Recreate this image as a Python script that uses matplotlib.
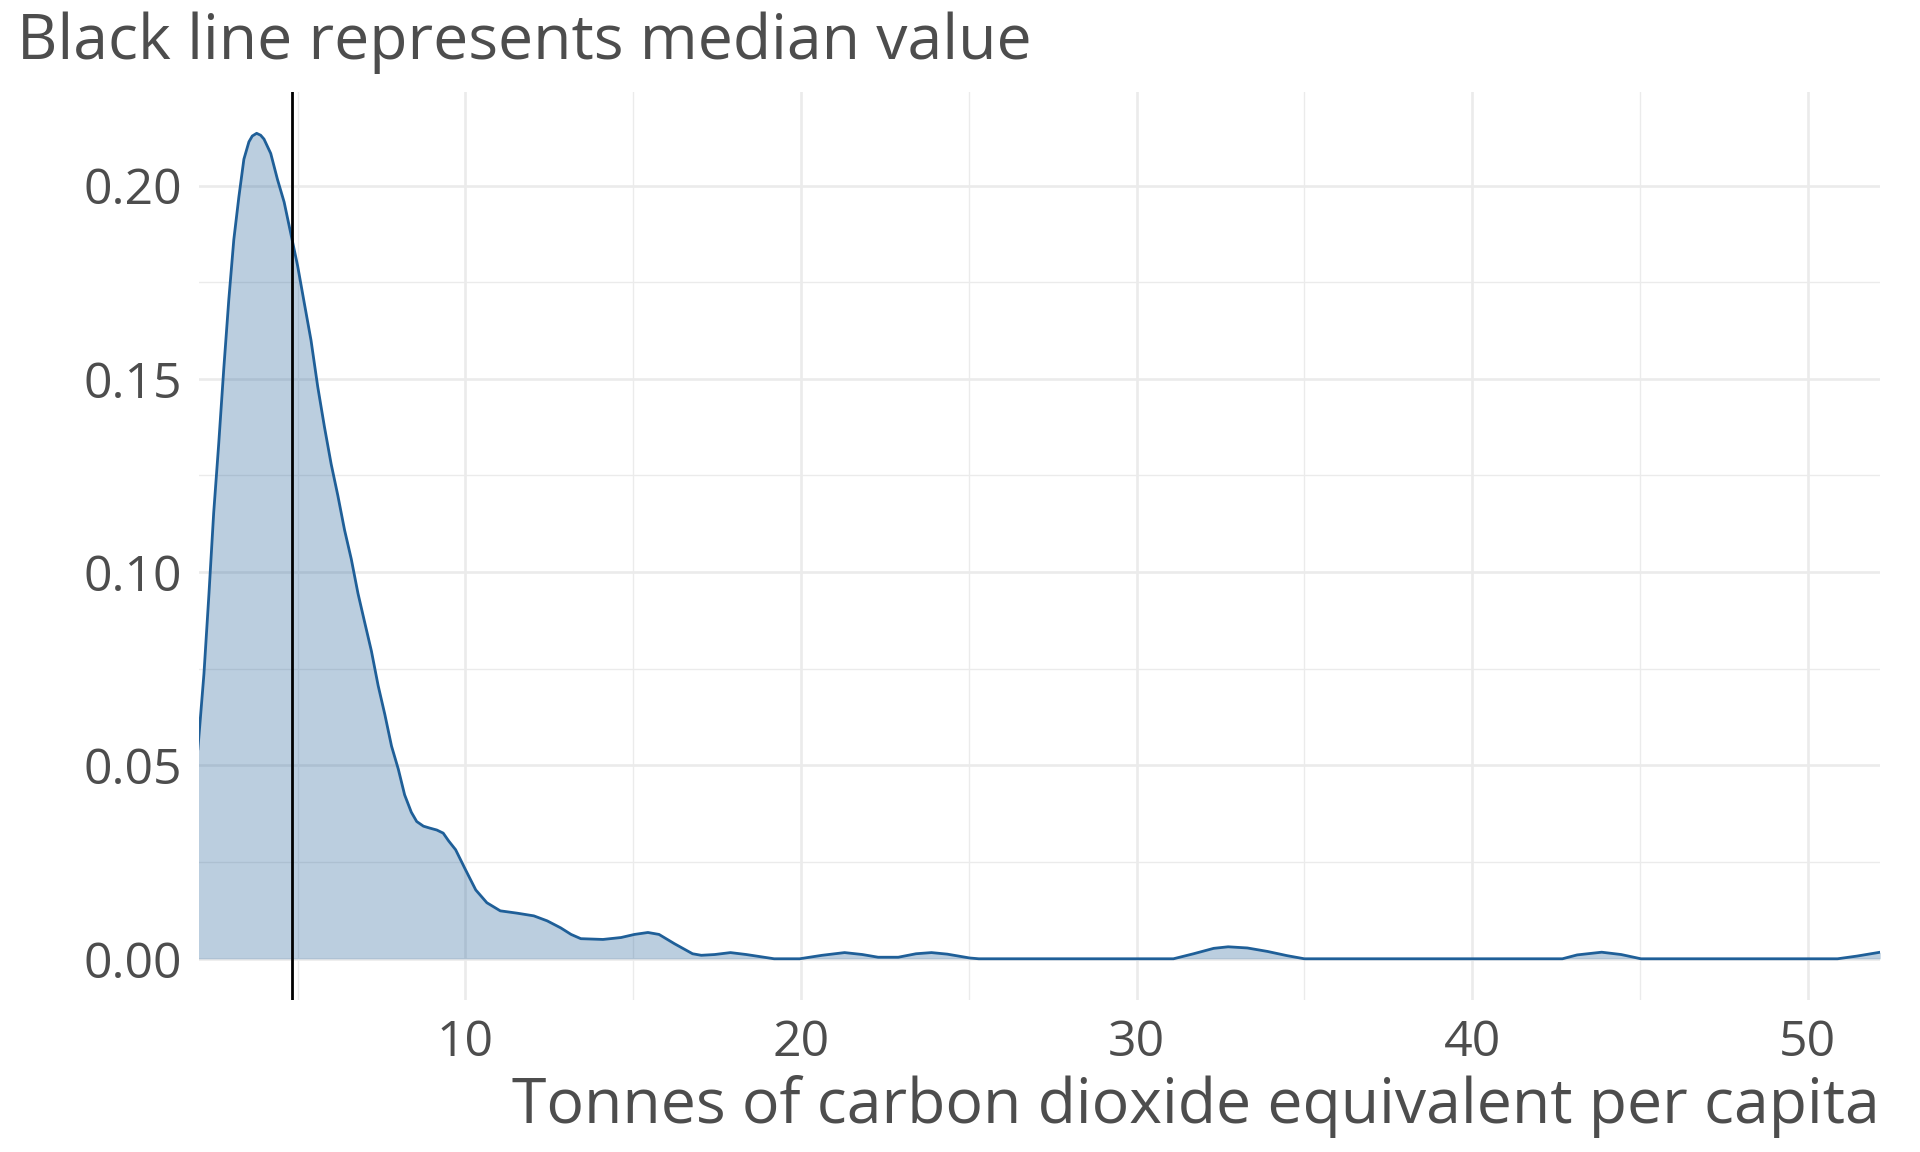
import matplotlib
matplotlib.use("Agg")
import matplotlib.pyplot as plt
from matplotlib.ticker import MultipleLocator

plt.rcParams['font.family'] = ['Open Sans', 'DejaVu Sans']

# Density estimate (x: tonnes CO2e per capita, y: density)
emissions = [2.03, 2.21, 2.36, 2.50, 2.65, 2.80, 2.95, 3.10, 3.25, 3.40, 3.55, 3.65,
             3.78, 3.90, 4.00, 4.20, 4.40, 4.60, 4.80, 5.00, 5.20, 5.40, 5.60, 5.80,
             6.00, 6.20, 6.40, 6.60, 6.80, 7.00, 7.20, 7.40, 7.60, 7.80, 8.00, 8.19,
             8.39, 8.55, 8.75, 8.94, 9.15, 9.34, 9.50, 9.71, 10.0, 10.31, 10.64, 11.04,
             11.54, 12.04, 12.44, 12.84, 13.15, 13.44, 14.1, 14.64, 15.04, 15.44, 15.77,
             16.23, 16.77, 17.03, 17.43, 17.9, 18.37, 18.9, 19.2, 19.96, 20.63, 21.3,
             21.83, 22.3, 22.9, 23.43, 23.89, 24.36, 25.03, 25.3, 31.1, 31.7, 32.3,
             32.73, 33.3, 33.9, 34.49, 35.0, 42.69, 43.13, 43.86, 44.44, 45.03, 50.89,
             51.47, 52.16]
density = [0.0543, 0.0737, 0.0945, 0.1153, 0.1332, 0.1525, 0.1704, 0.1860, 0.1970,
           0.2068, 0.2113, 0.2128, 0.2135, 0.2130, 0.2120, 0.2083, 0.2016, 0.1957,
           0.1875, 0.1793, 0.1696, 0.1600, 0.1480, 0.1376, 0.1280, 0.1198, 0.1109,
           0.1034, 0.0945, 0.0870, 0.0796, 0.0707, 0.0632, 0.0550, 0.0491, 0.0424,
           0.0379, 0.0355, 0.0343, 0.0338, 0.0333, 0.0325, 0.0305, 0.0282, 0.0231,
           0.0178, 0.0145, 0.0124, 0.0118, 0.0111, 0.0098, 0.0080, 0.0063, 0.0052,
           0.0050, 0.0055, 0.0063, 0.0068, 0.0063, 0.0039, 0.0013, 0.0009, 0.0011,
           0.0016, 0.0011, 0.0004, 0.0, 0.0, 0.0009, 0.0016, 0.0011, 0.0004, 0.0004,
           0.0013, 0.0016, 0.0012, 0.0002, 0.0, 0.0, 0.0013, 0.0027, 0.0031, 0.0028,
           0.0019, 0.0008, 0.0, 0.0, 0.0010, 0.0017, 0.0011, 0.0, 0.0, 0.0007, 0.0017]
median_value = 4.83

x_ticks = [10, 20, 30, 40, 50]
y_ticks = [0.00, 0.05, 0.10, 0.15, 0.20]
y_tick_labels = ["0.00", "0.05", "0.10", "0.15", "0.20"]
title_text = "Black line represents median value"
x_label = "Tonnes of carbon dioxide equivalent per capita"

TEXT = '#4d4d4d'
LINE = '#1f5f98'

fig = plt.figure(figsize=(19.2, 11.52), dpi=100)
ax = fig.add_axes([0.1036, 0.1319, 0.8755, 0.7882])

ax.fill_between(emissions, density, 0, color=LINE, alpha=0.3, linewidth=0, zorder=2)
ax.plot(emissions, density, color=LINE, linewidth=2.0, zorder=3,
        solid_joinstyle='round')
ax.axvline(median_value, color='black', linewidth=2.0, zorder=4)

ax.set_xlim(2.06, 52.15)
ymax = max(density)
ax.set_ylim(-0.05 * ymax, 1.05 * ymax)

ax.set_xticks(x_ticks)
ax.set_yticks(y_ticks)
ax.set_yticklabels(y_tick_labels)
ax.xaxis.set_minor_locator(MultipleLocator(5))
ax.yaxis.set_minor_locator(MultipleLocator(0.025))

ax.grid(which='major', color='#ebebeb', linewidth=1.9, zorder=0)
ax.grid(which='minor', color='#ebebeb', linewidth=0.95, zorder=0)
ax.set_axisbelow(True)

for s in ax.spines.values():
    s.set_visible(False)
ax.tick_params(which='both', length=0)
ax.tick_params(axis='x', labelsize=36, labelcolor=TEXT, pad=13)
ax.tick_params(axis='y', labelsize=36, labelcolor=TEXT, pad=12)

fig.text(17 / 1920, 1 - 58.7 / 1152, title_text, fontsize=45, color=TEXT,
         ha='left', va='baseline')
fig.text(0.9792, 1 - 1123 / 1152, x_label, fontsize=45, color=TEXT,
         ha='right', va='baseline')

fig.savefig('out.png', dpi=100, facecolor='white')
